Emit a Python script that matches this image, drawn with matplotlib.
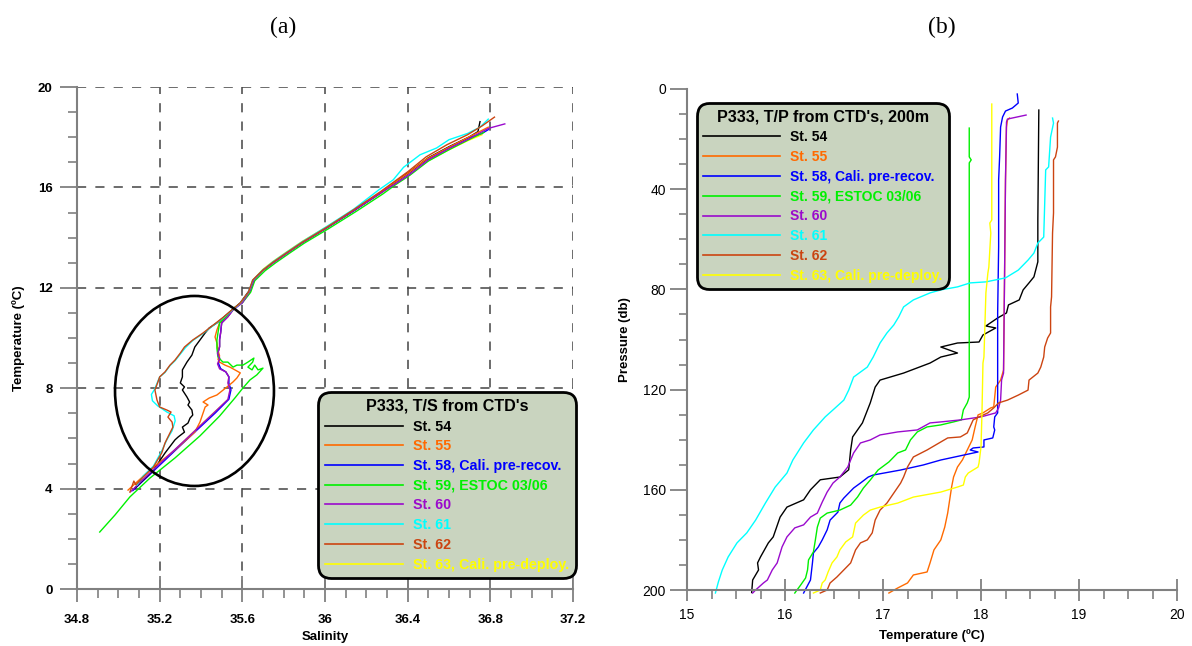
import matplotlib
matplotlib.use("Agg")
import matplotlib.pyplot as plt
from matplotlib.lines import Line2D
from matplotlib.patches import Ellipse
from matplotlib.ticker import MultipleLocator, FixedLocator

# ---------------- data ----------------
stations = ["St. 54", "St. 55", "St. 58, Cali. pre-recov.", "St. 59, ESTOC 03/06",
            "St. 60", "St. 61", "St. 62", "St. 63, Cali. pre-deploy."]
colors = ["#000000", "#FF6A00", "#0000FF", "#00F000", "#9A0ACD", "#00FFFF", "#CC4411", "#FFFF00"]

# Panel (a): (Salinity, Temperature) pairs
ts_st54 = [(35.08, 4.02), (35.17, 4.74), (35.226, 5.42), (35.274, 5.94), (35.29, 6.06), (35.32, 6.25),
           (35.31, 6.45), (35.337, 6.61), (35.347, 6.81), (35.36, 6.93), (35.356, 7.13), (35.337, 7.33),
           (35.345, 7.45), (35.332, 7.65), (35.31, 7.93), (35.32, 8.05), (35.30, 8.21), (35.31, 8.45),
           (35.31, 8.73), (35.332, 9.04), (35.356, 9.32), (35.37, 9.64), (35.395, 9.92), (35.42, 10.2),
           (35.44, 10.4), (35.477, 10.6), (35.506, 10.8), (35.55, 11.12), (35.59, 11.4), (35.63, 11.85),
           (35.655, 12.32), (35.70, 12.70), (35.75, 13.02), (35.82, 13.42), (35.89, 13.80), (36.01, 14.40),
           (36.14, 15.08), (36.27, 15.80), (36.34, 16.22), (36.41, 16.62), (36.50, 17.18), (36.60, 17.62),
           (36.70, 18.02), (36.74, 18.22), (36.75, 18.62)]
ts_st55 = [(35.047, 3.94), (35.153, 4.74), (35.274, 5.54), (35.37, 6.25), (35.395, 6.65), (35.41, 7.01),
           (35.42, 7.25), (35.434, 7.33), (35.41, 7.45), (35.44, 7.61), (35.477, 7.73), (35.526, 8.05),
           (35.555, 8.25), (35.574, 8.41), (35.59, 8.61), (35.564, 8.73), (35.54, 8.84), (35.516, 8.92),
           (35.49, 9.04), (35.482, 9.16), (35.49, 9.28), (35.482, 9.52), (35.477, 9.80), (35.468, 10.04),
           (35.477, 10.32), (35.49, 10.6), (35.526, 10.84), (35.555, 11.12), (35.595, 11.42), (35.632, 11.84),
           (35.652, 12.30), (35.70, 12.70), (35.75, 13.02), (35.82, 13.42), (35.89, 13.81), (36.01, 14.41),
           (36.14, 15.09), (36.27, 15.80), (36.33, 16.16), (36.40, 16.55), (36.49, 17.12), (36.59, 17.56),
           (36.69, 17.98), (36.79, 18.40)]
ts_st58 = [(35.07, 3.92), (35.16, 4.62), (35.27, 5.48), (35.38, 6.33), (35.47, 7.02), (35.535, 7.56),
           (35.545, 7.93), (35.535, 8.20), (35.535, 8.45), (35.52, 8.65), (35.495, 8.78), (35.485, 8.98),
           (35.49, 9.20), (35.482, 9.40), (35.49, 9.66), (35.49, 9.95), (35.495, 10.22), (35.50, 10.60),
           (35.53, 10.86), (35.556, 11.13), (35.60, 11.42), (35.635, 11.84), (35.655, 12.30), (35.70, 12.69),
           (35.75, 13.01), (35.82, 13.41), (35.89, 13.80), (36.01, 14.40), (36.14, 15.07), (36.27, 15.78),
           (36.33, 16.15), (36.40, 16.53), (36.49, 17.10), (36.59, 17.55), (36.69, 17.96), (36.76, 18.15),
           (36.79, 18.30)]
ts_st59 = [(34.91, 2.27), (34.984, 2.95), (35.056, 3.67), (35.153, 4.42), (35.274, 5.22), (35.395, 6.10),
           (35.49, 6.89), (35.564, 7.61), (35.603, 8.01), (35.637, 8.33), (35.67, 8.53), (35.70, 8.80),
           (35.676, 8.73), (35.66, 8.92), (35.647, 8.73), (35.627, 8.84), (35.65, 9.04), (35.656, 9.20),
           (35.627, 9.04), (35.603, 8.92), (35.574, 8.92), (35.555, 8.84), (35.53, 9.04), (35.506, 9.04),
           (35.482, 9.24), (35.477, 9.60), (35.477, 9.92), (35.482, 10.2), (35.49, 10.6), (35.54, 11.0),
           (35.56, 11.2), (35.60, 11.40), (35.64, 11.82), (35.66, 12.28), (35.71, 12.68), (35.76, 12.99),
           (35.83, 13.39), (35.90, 13.78), (36.02, 14.37), (36.15, 15.04), (36.28, 15.74), (36.34, 16.10),
           (36.41, 16.48), (36.50, 17.05), (36.60, 17.50), (36.70, 17.92), (36.77, 18.20)]
ts_st60 = [(35.06, 3.88), (35.15, 4.60), (35.26, 5.45), (35.37, 6.30), (35.46, 7.00), (35.53, 7.55),
           (35.54, 7.93), (35.53, 8.21), (35.535, 8.45), (35.52, 8.65), (35.49, 8.77), (35.48, 8.97),
           (35.49, 9.17), (35.48, 9.37), (35.49, 9.64), (35.49, 9.92), (35.495, 10.2), (35.50, 10.6),
           (35.53, 10.84), (35.555, 11.12), (35.60, 11.40), (35.635, 11.85), (35.655, 12.30), (35.70, 12.70),
           (35.75, 13.00), (35.82, 13.40), (35.89, 13.80), (36.01, 14.40), (36.14, 15.08), (36.27, 15.78),
           (36.34, 16.14), (36.41, 16.52), (36.50, 17.10), (36.60, 17.55), (36.70, 17.95), (36.79, 18.35),
           (36.87, 18.53)]
ts_st61 = [(35.09, 4.14), (35.12, 4.50), (35.17, 4.90), (35.21, 5.50), (35.235, 5.95), (35.26, 6.30),
           (35.275, 6.70), (35.27, 6.90), (35.235, 7.05), (35.19, 7.30), (35.165, 7.50), (35.16, 7.75),
           (35.175, 7.95), (35.19, 8.25), (35.20, 8.45), (35.225, 8.62), (35.25, 8.90), (35.275, 9.10),
           (35.30, 9.36), (35.325, 9.62), (35.36, 9.90), (35.41, 10.18), (35.46, 10.50), (35.51, 10.82),
           (35.55, 11.10), (35.59, 11.38), (35.63, 11.82), (35.65, 12.30), (35.70, 12.72), (35.75, 13.05),
           (35.82, 13.45), (35.89, 13.84), (36.01, 14.45), (36.14, 15.14), (36.26, 15.90), (36.33, 16.30),
           (36.38, 16.80), (36.46, 17.30), (36.54, 17.57), (36.60, 17.90), (36.69, 18.15), (36.75, 18.40),
           (36.79, 18.72)]
ts_st62 = [(35.056, 3.86), (35.075, 4.30), (35.085, 4.15), (35.12, 4.46), (35.17, 4.86), (35.21, 5.42),
           (35.226, 5.82), (35.25, 6.22), (35.264, 6.45), (35.26, 6.65), (35.24, 6.85), (35.255, 7.05),
           (35.235, 7.13), (35.20, 7.25), (35.187, 7.53), (35.177, 7.93), (35.19, 8.21), (35.20, 8.45),
           (35.226, 8.65), (35.25, 8.92), (35.274, 9.12), (35.30, 9.40), (35.32, 9.64), (35.36, 9.92),
           (35.41, 10.20), (35.46, 10.52), (35.51, 10.84), (35.55, 11.12), (35.59, 11.39), (35.63, 11.83),
           (35.65, 12.31), (35.70, 12.71), (35.75, 13.03), (35.82, 13.43), (35.89, 13.82), (36.01, 14.42),
           (36.14, 15.12), (36.27, 15.84), (36.33, 16.20), (36.40, 16.62), (36.49, 17.22), (36.59, 17.70),
           (36.69, 18.10), (36.76, 18.45), (36.82, 18.80)]
ts_st63 = [(35.07, 3.95), (35.16, 4.64), (35.265, 5.47), (35.37, 6.31), (35.46, 7.01), (35.532, 7.56),
           (35.542, 7.94), (35.532, 8.21), (35.534, 8.46), (35.52, 8.66), (35.492, 8.78), (35.482, 8.98),
           (35.49, 9.19), (35.481, 9.38), (35.49, 9.65), (35.49, 9.93), (35.495, 10.21), (35.50, 10.60),
           (35.53, 10.85), (35.555, 11.14), (35.60, 11.44), (35.64, 11.86), (35.655, 12.34), (35.70, 12.74),
           (35.75, 13.06), (35.82, 13.46), (35.89, 13.85), (36.01, 14.44), (36.14, 15.10), (36.27, 15.76),
           (36.33, 16.10), (36.40, 16.46), (36.49, 17.02), (36.59, 17.46), (36.69, 17.86), (36.76, 18.10)]
ts_data = [ts_st54, ts_st55, ts_st58, ts_st59, ts_st60, ts_st61, ts_st62, ts_st63]

# Panel (b): (Temperature, Pressure) pairs
tp_st54 = [(18.59, 8.4), (18.58, 52.3), (18.58, 69.0), (18.54, 75.0), (18.49, 77.4), (18.43, 80.2),
           (18.39, 84.2), (18.28, 86.2), (18.26, 89.4), (18.17, 91.4), (18.05, 94.6), (18.15, 95.4),
           (18.02, 98.2), (17.98, 101.0), (17.76, 101.4), (17.59, 103.0), (17.76, 105.4), (17.59, 107.0),
           (17.48, 109.4), (17.21, 113.4), (16.97, 116.2), (16.92, 119.0), (16.87, 125.3), (16.79, 133.3),
           (16.69, 138.9), (16.67, 144.1), (16.65, 152.0), (16.56, 154.9), (16.36, 156.0), (16.26, 160.0),
           (16.19, 164.0), (16.02, 166.9), (15.95, 170.9), (15.88, 178.8), (15.83, 181.2), (15.75, 186.8),
           (15.72, 189.2), (15.73, 192.0), (15.67, 196.0), (15.66, 201.0)]
tp_st55 = [(18.29, 11.6), (18.27, 12.4), (18.26, 15.2), (18.25, 36.3), (18.24, 76.2), (18.23, 112.2),
           (18.20, 116.2), (18.15, 119.0), (18.13, 126.9), (18.10, 127.3), (18.02, 129.3), (17.97, 130.1),
           (17.94, 134.9), (17.91, 140.1), (17.86, 144.1), (17.81, 148.1), (17.76, 150.9), (17.72, 154.9),
           (17.70, 158.9), (17.68, 164.1), (17.66, 169.3), (17.63, 174.9), (17.59, 180.0), (17.52, 184.0),
           (17.48, 189.2), (17.45, 192.8), (17.31, 194.0), (17.25, 197.2), (17.15, 199.2), (17.06, 201.2)]
tp_st58 = [(18.37, 2.0), (18.38, 5.6), (18.32, 7.6), (18.25, 8.8), (18.22, 11.2), (18.20, 15.2),
           (18.19, 27.1), (18.18, 36.3), (18.18, 63.0), (18.17, 89.4), (18.17, 129.3), (18.14, 130.9),
           (18.13, 134.9), (18.14, 136.1), (18.12, 139.3), (18.03, 140.1), (18.03, 142.9), (17.92, 143.3),
           (17.89, 144.1), (17.97, 144.9), (17.59, 148.1), (17.41, 150.1), (17.18, 152.1), (16.90, 154.1),
           (16.85, 154.9), (16.77, 157.3), (16.70, 159.3), (16.65, 161.3), (16.60, 163.3), (16.56, 165.3),
           (16.54, 168.9), (16.46, 172.1), (16.43, 176.0), (16.38, 180.0), (16.34, 182.8), (16.29, 185.2),
           (16.28, 189.2), (16.26, 196.0), (16.19, 201.2)]
tp_st59 = [(17.88, 15.6), (17.88, 27.1), (17.90, 28.3), (17.88, 29.5), (17.88, 123.0), (17.86, 125.3),
           (17.82, 128.1), (17.80, 132.1), (17.72, 132.9), (17.59, 134.1), (17.45, 134.9), (17.35, 136.9),
           (17.28, 140.1), (17.23, 144.1), (17.15, 145.3), (17.06, 148.9), (16.95, 152.1), (16.87, 156.1),
           (16.80, 159.3), (16.74, 162.9), (16.67, 166.1), (16.56, 168.1), (16.43, 169.3), (16.36, 171.3),
           (16.33, 174.9), (16.31, 180.0), (16.29, 184.8), (16.24, 188.0), (16.23, 192.0), (16.21, 195.2),
           (16.16, 198.0), (16.10, 201.2)]
tp_st60 = [(18.46, 10.4), (18.27, 12.0), (18.26, 13.2), (18.25, 36.3), (18.24, 76.2), (18.23, 113.4),
           (18.21, 116.2), (18.20, 124.2), (18.18, 127.3), (18.15, 129.3), (18.00, 130.9), (17.79, 132.1),
           (17.59, 132.9), (17.48, 133.3), (17.35, 136.1), (17.15, 136.9), (16.97, 138.1), (16.87, 140.1),
           (16.77, 141.3), (16.70, 145.3), (16.64, 150.9), (16.56, 154.9), (16.49, 157.3), (16.43, 160.9),
           (16.38, 164.9), (16.33, 169.3), (16.26, 170.9), (16.19, 174.0), (16.10, 175.2), (16.02, 178.8),
           (15.97, 182.8), (15.92, 189.2), (15.87, 192.0), (15.82, 196.0), (15.78, 197.2), (15.70, 200.0),
           (15.67, 201.2)]
tp_st61 = [(18.73, 11.6), (18.74, 13.6), (18.71, 19.2), (18.69, 31.1), (18.66, 32.3), (18.64, 59.1),
           (18.58, 61.5), (18.54, 65.5), (18.48, 68.3), (18.38, 72.3), (18.25, 75.4), (18.05, 77.0),
           (17.89, 77.4), (17.76, 79.0), (17.59, 80.2), (17.48, 81.4), (17.31, 84.2), (17.21, 87.0),
           (17.16, 91.0), (17.11, 94.2), (17.04, 97.4), (16.97, 101.4), (16.90, 107.0), (16.84, 111.0),
           (16.70, 115.0), (16.65, 120.2), (16.60, 124.2), (16.49, 128.1), (16.41, 130.9), (16.29, 136.1),
           (16.19, 141.3), (16.08, 148.1), (16.02, 153.3), (15.90, 158.9), (15.80, 165.3), (15.70, 172.1),
           (15.61, 177.2), (15.51, 181.2), (15.42, 186.8), (15.36, 192.0), (15.32, 196.8), (15.29, 201.2)]
tp_st62 = [(18.79, 12.8), (18.78, 13.6), (18.78, 23.2), (18.76, 27.1), (18.74, 28.3), (18.74, 49.5),
           (18.73, 57.5), (18.72, 83.0), (18.71, 87.0), (18.71, 97.4), (18.68, 99.4), (18.65, 103.0),
           (18.64, 107.0), (18.61, 111.0), (18.58, 113.4), (18.49, 116.2), (18.48, 120.2), (18.38, 122.2),
           (18.27, 124.2), (18.18, 125.3), (18.13, 127.3), (18.07, 129.3), (17.98, 130.9), (17.92, 132.1),
           (17.86, 137.3), (17.79, 138.9), (17.66, 139.3), (17.59, 140.9), (17.45, 144.1), (17.31, 146.9),
           (17.25, 150.9), (17.21, 154.9), (17.18, 157.3), (17.11, 161.3), (17.04, 165.3), (16.97, 168.1),
           (16.92, 172.1), (16.89, 177.2), (16.84, 180.0), (16.77, 181.2), (16.72, 184.0), (16.67, 189.2),
           (16.60, 192.0), (16.53, 194.8), (16.46, 197.2), (16.43, 200.0), (16.36, 201.2)]
tp_st63 = [(18.11, 6.0), (18.11, 52.3), (18.09, 53.5), (18.10, 57.5), (18.08, 71.1), (18.07, 73.5),
           (18.05, 81.4), (18.03, 107.0), (18.02, 109.4), (18.01, 129.3), (18.00, 142.9), (17.98, 149.3),
           (17.97, 150.9), (17.87, 153.3), (17.84, 154.9), (17.82, 158.1), (17.76, 158.9), (17.59, 160.9),
           (17.31, 162.9), (17.15, 165.3), (16.97, 166.9), (16.87, 168.1), (16.80, 170.1), (16.72, 173.3),
           (16.69, 178.8), (16.62, 180.8), (16.56, 184.0), (16.53, 186.8), (16.48, 189.2), (16.44, 192.8),
           (16.41, 196.0), (16.38, 197.2), (16.36, 200.0), (16.29, 201.2)]
tp_data = [tp_st54, tp_st55, tp_st58, tp_st59, tp_st60, tp_st61, tp_st62, tp_st63]

sal_ticks = [34.8, 35.2, 35.6, 36.0, 36.4, 36.8, 37.2]
sal_labels = ["34.8", "35.2", "35.6", "36", "36.4", "36.8", "37.2"]
temp_a_ticks = [0, 4, 8, 12, 16, 20]
temp_b_ticks = [15, 16, 17, 18, 19, 20]
pres_ticks = [0, 40, 80, 120, 160, 200]

# ---------------- figure ----------------
W, H = 1192, 646
fig = plt.figure(figsize=(W / 100, H / 100), dpi=100)
SANS = "Liberation Sans"
SPINE = "#808080"

ax1 = fig.add_axes([77 / W, (H - 589) / H, 496 / W, 502 / H])
ax2 = fig.add_axes([687 / W, (H - 590) / H, 490 / W, 501 / H])

order = [7, 2, 0, 1, 3, 4, 5, 6]  # drawing order (yellow & blue beneath)
for k, i in enumerate(order):
    s = [p[0] for p in ts_data[i]]
    t = [p[1] for p in ts_data[i]]
    ax1.plot(s, t, color=colors[i], lw=1.0, zorder=3 + k * 0.01, solid_joinstyle="round")
for i in range(8):
    tt = [p[0] for p in tp_data[i]]
    pp = [p[1] for p in tp_data[i]]
    ax2.plot(tt, pp, color=colors[i], lw=1.0, zorder=3, clip_on=False)

ax1.add_patch(Ellipse((35.3685, 7.89), 0.769, 7.57, fill=False, lw=1.9, edgecolor="black", zorder=6))

# axes (a)
ax1.set_xlim(34.8, 37.2)
ax1.set_ylim(0, 20)
ax1.xaxis.set_major_locator(FixedLocator(sal_ticks))
ax1.set_xticklabels(sal_labels)
ax1.xaxis.set_minor_locator(MultipleLocator(0.1))
ax1.yaxis.set_major_locator(FixedLocator(temp_a_ticks))
ax1.yaxis.set_minor_locator(MultipleLocator(1))
ax1.grid(True, which="major", linestyle=(0, (6, 6)), color="#444444", linewidth=1.1)
ax1.set_axisbelow(True)

# axes (b)
ax2.set_xlim(15, 20)
ax2.set_ylim(200, 0)
ax2.xaxis.set_major_locator(FixedLocator(temp_b_ticks))
ax2.xaxis.set_minor_locator(MultipleLocator(0.25))
ax2.yaxis.set_major_locator(FixedLocator(pres_ticks))
ax2.yaxis.set_minor_locator(MultipleLocator(10))

for ax in (ax1, ax2):
    for side in ("top", "right"):
        ax.spines[side].set_visible(False)
    for side in ("left", "bottom"):
        ax.spines[side].set_color(SPINE)
        ax.spines[side].set_linewidth(1.5)
        ax.spines[side].set_zorder(4)
    ax.set_facecolor("white")

ax1.tick_params(axis="x", which="major", direction="inout", length=18.7, width=1.3, color=SPINE, pad=9)
ax1.tick_params(axis="x", which="minor", direction="out", length=6.5, width=1.2, color=SPINE)
ax1.tick_params(axis="y", which="major", direction="out", length=12.2, width=1.3, color=SPINE, pad=5.5)
ax1.tick_params(axis="y", which="minor", direction="out", length=6.5, width=1.2, color=SPINE)
ax2.tick_params(axis="x", which="major", direction="inout", length=16.5, width=1.3, color=SPINE, pad=4.5)
ax2.tick_params(axis="x", which="minor", direction="out", length=6.5, width=1.2, color=SPINE)
ax2.tick_params(axis="y", which="major", direction="out", length=12.2, width=1.3, color=SPINE, pad=3)
ax2.tick_params(axis="y", which="minor", direction="out", length=5.8, width=1.2, color=SPINE)

for lab in ax1.get_xticklabels() + ax1.get_yticklabels():
    lab.set_fontfamily(SANS)
    lab.set_fontweight("bold")
    lab.set_fontsize(9.5)
for lab in ax2.get_xticklabels() + ax2.get_yticklabels():
    lab.set_fontfamily(SANS)
    lab.set_fontsize(10)

# axis labels
lab_kw = dict(family=SANS, weight="bold", fontsize=9.5)
fig.text(325 / W, 1 - 637 / H, "Salinity", ha="center", va="center", **lab_kw)
fig.text(19 / W, 1 - 338 / H, "Temperature (ºC)", ha="center", va="center", rotation=90, **lab_kw)
fig.text(932 / W, 1 - 636 / H, "Temperature (ºC)", ha="center", va="center", **lab_kw)
fig.text(625 / W, 1 - 340 / H, "Pressure (db)", ha="center", va="center", rotation=90, **lab_kw)

# panel titles
fig.text(283 / W, 1 - 27 / H, "(a)", ha="center", va="center", family="Liberation Serif", fontsize=17)
fig.text(942 / W, 1 - 27 / H, "(b)", ha="center", va="center", family="Liberation Serif", fontsize=17)

# legends
handles = [Line2D([], [], color=c, lw=1.2) for c in colors]


def make_legend(ax, title, loc, anchor, size, hlen, lspace):
    leg = ax.legend(handles, stations, title=title, loc=loc,
                    bbox_to_anchor=anchor, bbox_transform=fig.transFigure,
                    prop=dict(family=SANS, weight="bold", size=size),
                    title_fontproperties=dict(family=SANS, weight="bold", size=11.6),
                    handlelength=hlen, handletextpad=0.7, labelspacing=lspace,
                    borderpad=0.45, borderaxespad=0, frameon=True, fancybox=True,
                    framealpha=1, facecolor="#C9D4BF", edgecolor="black")
    leg.get_frame().set_linewidth(2.0)
    leg.get_frame().set_boxstyle("round,pad=0,rounding_size=0.9")
    for t, c in zip(leg.get_texts(), colors):
        t.set_color(c)
    leg.set_zorder(10)
    return leg


make_legend(ax1, "P333, T/S from CTD's", "lower right", (576 / W, 1 - 578 / H), 10.3, 5.5, 0.40)
make_legend(ax2, "P333, T/P from CTD's, 200m", "upper left", (697 / W, 1 - 103 / H), 10.0, 5.55, 0.42)

fig.savefig("out.png", dpi=100, facecolor="white")
